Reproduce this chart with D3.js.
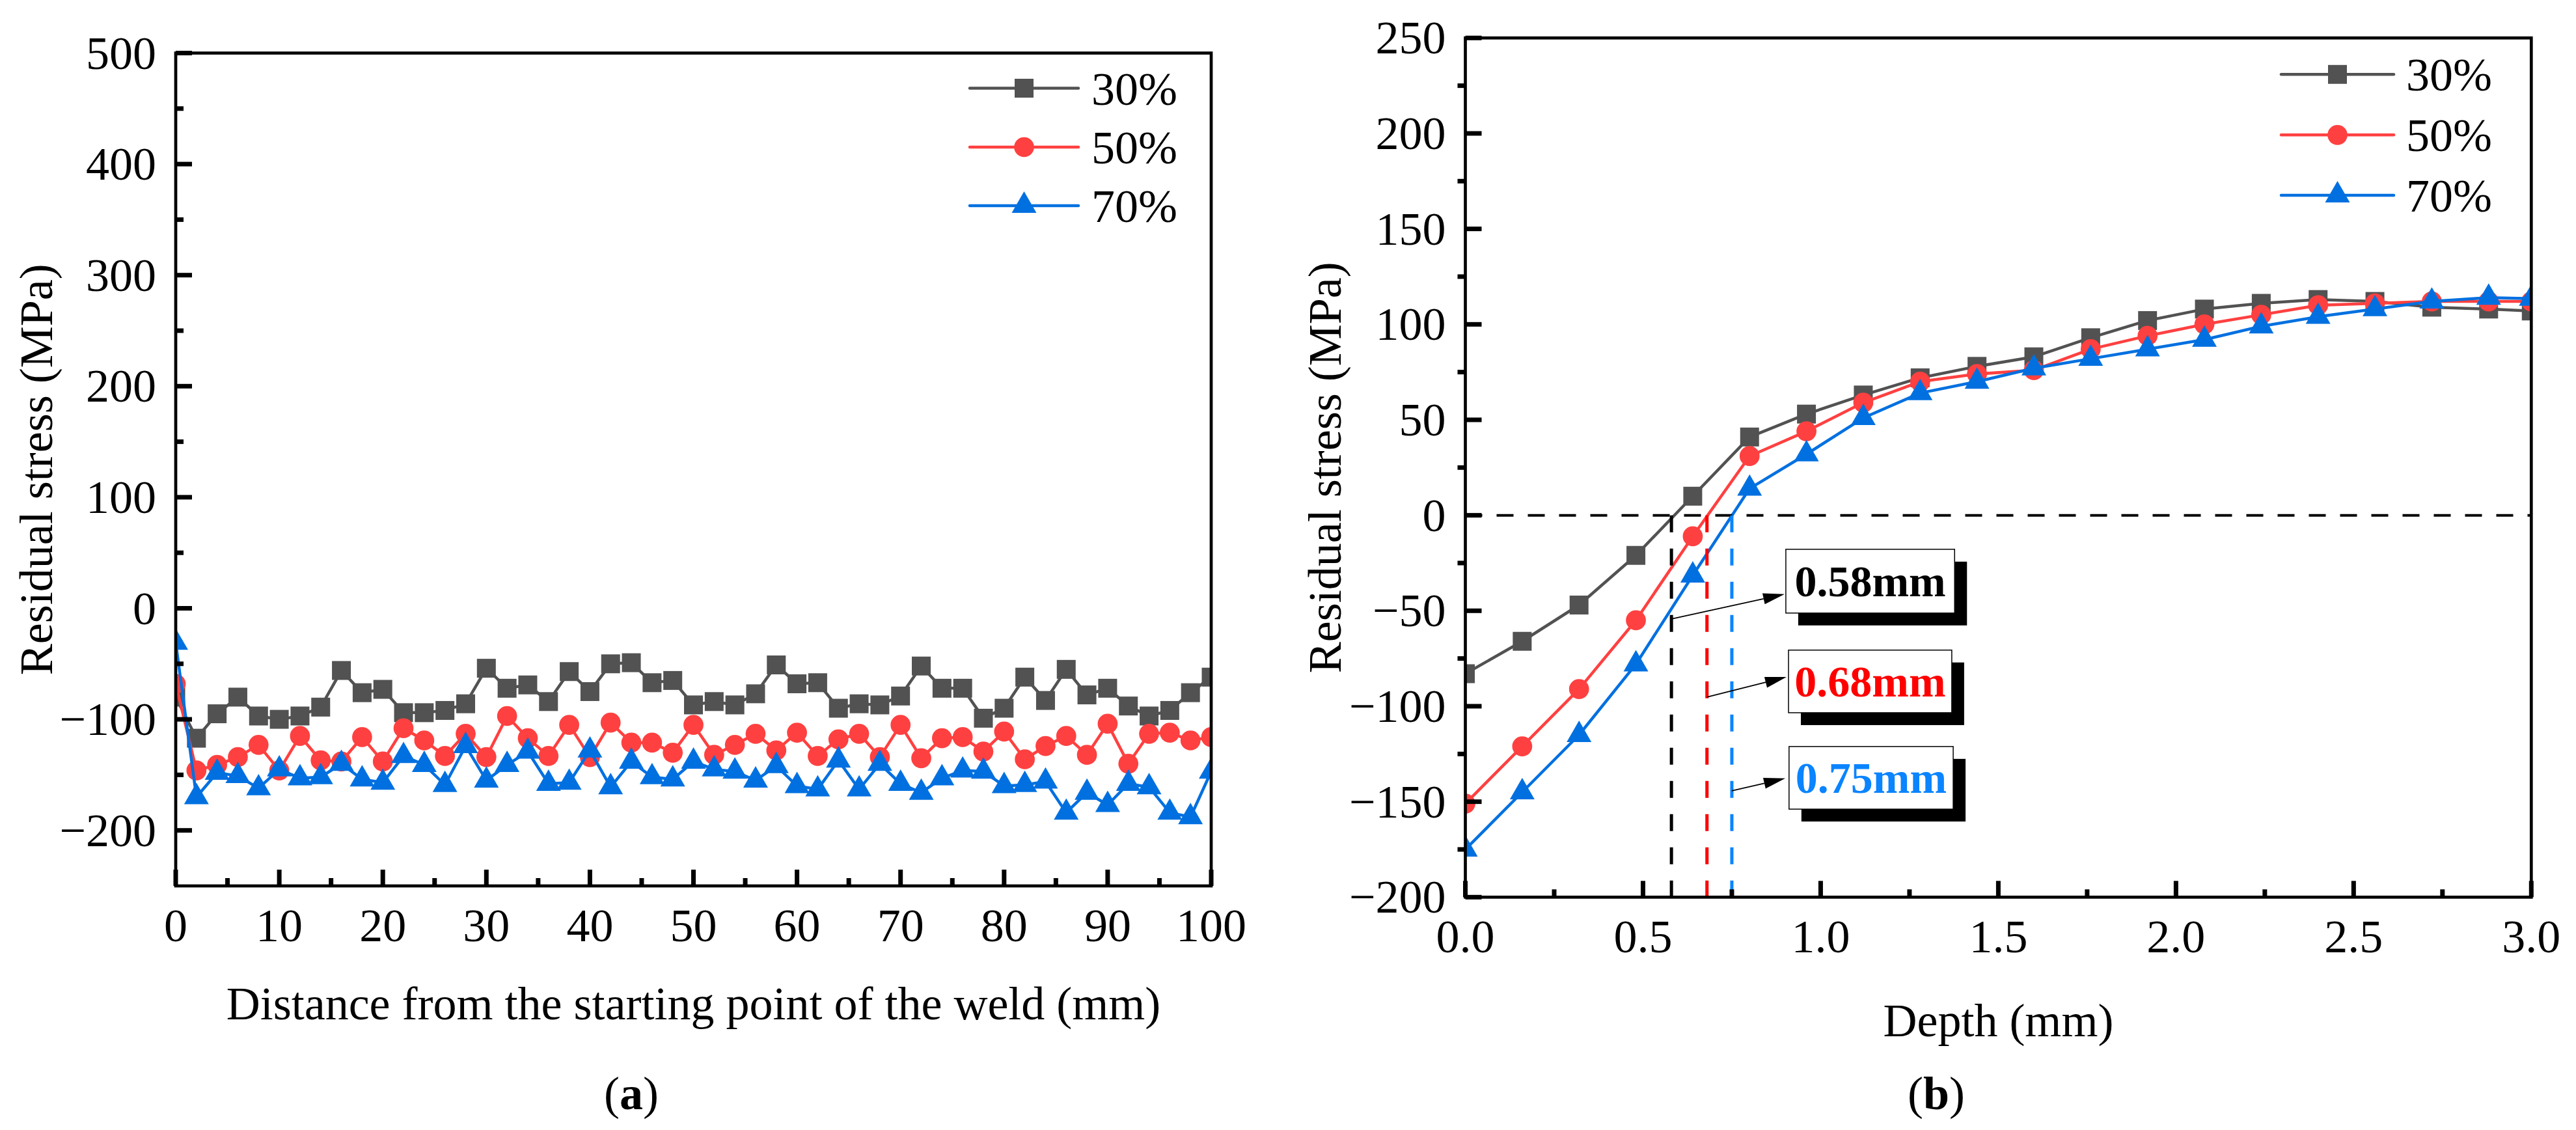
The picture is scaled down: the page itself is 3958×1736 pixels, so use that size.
<!DOCTYPE html>
<html><head><meta charset="utf-8">
<script src="https://cdn.jsdelivr.net/npm/d3@7/dist/d3.min.js"></script>
<style>
body{margin:0;background:#fff}
svg{display:block}
svg text{font-family:"Liberation Serif","Times New Roman",serif;fill:#000}
</style>
</head><body>
<svg id="c" width="3958" height="1736" font-family="Liberation Serif, Times New Roman, serif"></svg>
<script>
// ---------- DATA ----------
const seriesNames = ["30%", "50%", "70%"];

// (a) distance from the starting point of the weld (mm)
const distanceMM = [0,2,4,6,8,10,12,14,16,18,20,22,24,26,28,30,32,34,36,38,40,42,44,46,48,50,
  52,54,56,58,60,62,64,66,68,70,72,74,76,78,80,82,84,86,88,90,92,94,96,98,100];
const stressA30 = [-80,-117,-95,-80,-97,-100,-97,-89,-56,-76,-73,-94,-94,-92,-86,-54,-72,-69,-84,-57,-75,-50,-49,-67,-65,-87,
  -84,-87,-77,-51,-68,-67,-90,-86,-87,-79,-52,-72,-72,-99,-90,-62,-83,-55,-78,-72,-88,-97,-92,-76,-62];
const stressA50 = [-68,-146,-141,-134,-123,-146,-115,-137,-138,-116,-138,-108,-119,-133,-113,-134,-97,-117,-133,-105,-134,-103,-121,-121,-130,-105,
  -132,-123,-113,-128,-112,-133,-118,-113,-134,-105,-135,-117,-116,-129,-111,-136,-124,-115,-132,-104,-140,-113,-112,-119,-116];
const stressA70 = [-31,-170,-148,-151,-162,-145,-153,-152,-140,-154,-157,-133,-141,-159,-124,-155,-141,-129,-158,-157,-128,-161,-138,-152,-154,-138,
  -145,-147,-155,-142,-160,-163,-137,-163,-140,-158,-166,-153,-146,-147,-160,-159,-156,-184,-166,-177,-158,-161,-184,-188,-147];

// (b) depth (mm)
const depthMM = [0,0.16,0.32,0.48,0.64,0.80,0.96,1.12,1.28,1.44,1.60,1.76,1.92,2.08,2.24,2.40,2.56,2.72,2.88,3.00];
const stressB30 = [-83,-66,-47,-21,10,41,53,63,72,78,83,93,102,108,111,113,112,109,108,107];
const stressB50 = [-151,-121,-91,-55,-11,31,44,59,70,74,76,87,94,100,105,110,111,112,112,112];
const stressB70 = [-175,-145,-115,-78,-31.5,14,32,51,64,70,77,82,87,92,99,104,108,112,114,113.5];

// tick values / labels
const aXTicks = [0,10,20,30,40,50,60,70,80,90,100];
const aXMinor = [5,15,25,35,45,55,65,75,85,95];
const aYTicks = [-200,-100,0,100,200,300,400,500];
const aYMinor = [-150,-50,50,150,250,350,450];
const bXTicks = [0,0.5,1.0,1.5,2.0,2.5,3.0];
const bXMinor = [0.25,0.75,1.25,1.75,2.25,2.75];
const bYTicks = [-200,-150,-100,-50,0,50,100,150,200,250];
const bYMinor = [-175,-125,-75,-25,25,75,125,175,225];

// annotation (b): zero-crossing depths
const crossDepth = [0.58, 0.68, 0.75];
const crossLabels = ["0.58mm", "0.68mm", "0.75mm"];
const boxLeft = [0.902, 0.9095, 0.911];
const boxRight = [1.377, 1.369, 1.373];
const boxTop = [-17.8, -70.6, -121.1];
const boxBottom = [-51.2, -103.4, -153.9];
const arrowFromY = [-54.3, -95.2, -144.3];
const arrowToX = [0.8985, 0.904, 0.9004];
const arrowToY = [-41.3, -84.7, -137.8];

// ---------- STYLE ----------
const FONT = "Liberation Serif, Times New Roman, serif";
const colors = ["#525252", "#ff4040", "#0070e0"];
const crossColors = ["#000000", "#ff0000", "#0a84ff"];
const symbols = [
  d3.symbol().type(d3.symbolSquare).size(841)(),
  d3.symbol().type(d3.symbolCircle).size(740)(),
  d3.symbol().type(d3.symbolTriangle).size(625)()
];
const FS = 72;

const svg = d3.select("#c");
svg.append("rect").attr("width",3958).attr("height",1736).attr("fill","#fff");
const defs = svg.append("defs");

function txt(sel) {
  return sel.append("text").attr("font-family", FONT);
}

function drawPanel(p) {
  const g = svg.append("g");
  const x = d3.scaleLinear().domain(p.xDomain).range([p.left, p.right]);
  const y = d3.scaleLinear().domain(p.yDomain).range([p.bottom, p.top]);
  defs.append("clipPath").attr("id", "clip" + p.id).append("rect")
    .attr("x", p.left).attr("y", p.top).attr("width", p.right - p.left).attr("height", p.bottom - p.top);

  // series
  p.series.forEach((vals, k) => {
    const data = p.xs.map((xv, i) => [xv, vals[i]]);
    const sg = g.append("g").attr("clip-path", `url(#clip${p.id})`);
    sg.append("path")
      .attr("d", d3.line().x(d => x(d[0])).y(d => y(d[1]))(data))
      .attr("fill", "none").attr("stroke", colors[k]).attr("stroke-width", 4.5)
      .attr("stroke-linejoin", "round");
    sg.selectAll("path.m").data(data).join("path").attr("class", "m")
      .attr("transform", d => `translate(${x(d[0])},${y(d[1])})`)
      .attr("d", symbols[k]).attr("fill", colors[k]);
  });

  if (p.annot) p.annot(g, x, y);

  // frame
  g.append("rect").attr("x", p.left).attr("y", p.top)
    .attr("width", p.right - p.left).attr("height", p.bottom - p.top)
    .attr("fill", "none").attr("stroke", "#000").attr("stroke-width", 4.7);

  // ticks
  const tk = g.append("g").attr("stroke", "#000").attr("stroke-width", 7);
  p.xTicks.forEach(v => tk.append("line").attr("x1", x(v)).attr("x2", x(v))
    .attr("y1", p.bottom).attr("y2", p.bottom - 25));
  p.xMinor.forEach(v => tk.append("line").attr("x1", x(v)).attr("x2", x(v))
    .attr("y1", p.bottom).attr("y2", p.bottom - 12));
  p.yTicks.forEach(v => tk.append("line").attr("y1", y(v)).attr("y2", y(v))
    .attr("x1", p.left).attr("x2", p.left + 25));
  p.yMinor.forEach(v => tk.append("line").attr("y1", y(v)).attr("y2", y(v))
    .attr("x1", p.left).attr("x2", p.left + p.yMinorDir * 12));

  // tick labels
  p.xTicks.forEach(v => txt(g).attr("x", x(v)).attr("y", p.bottom + 85)
    .attr("text-anchor", "middle").attr("font-size", FS).text(p.xFmt(v)));
  p.yTicks.forEach(v => txt(g).attr("x", p.left - 30).attr("y", y(v) + 24)
    .attr("text-anchor", "end").attr("font-size", FS).text(String(v).replace("-", "\u2212")));

  // axis titles
  txt(g).attr("x", (p.left + p.right) / 2).attr("y", p.xTitleY)
    .attr("text-anchor", "middle").attr("font-size", FS).text(p.xTitle);
  txt(g).attr("transform", `translate(${p.yTitleX},${(p.top + p.bottom) / 2}) rotate(-90)`)
    .attr("text-anchor", "middle").attr("font-size", FS).text("Residual stress (MPa)");

  // legend
  seriesNames.forEach((n, k) => {
    const ly = p.legRows[k];
    g.append("line").attr("x1", p.legX0).attr("x2", p.legX1).attr("y1", ly).attr("y2", ly)
      .attr("stroke", colors[k]).attr("stroke-width", 4.5).attr("stroke-linecap", "round");
    g.append("path").attr("transform", `translate(${(p.legX0 + p.legX1) / 2},${ly})`)
      .attr("d", symbols[k]).attr("fill", colors[k]);
    txt(g).attr("x", p.legTX).attr("y", ly + 25).attr("font-size", FS).text(n);
  });

  // sub label
  const sl = txt(g).attr("x", p.subX).attr("y", 1704).attr("text-anchor", "middle").attr("font-size", FS);
  sl.append("tspan").text("(");
  sl.append("tspan").attr("font-weight", "bold").text(p.sub);
  sl.append("tspan").text(")");
}

drawPanel({
  id: "A", left: 270, right: 1861, top: 81.5, bottom: 1361,
  xDomain: [0, 100], yDomain: [-250, 500],
  xs: distanceMM, series: [stressA30, stressA50, stressA70],
  xTicks: aXTicks, xMinor: aXMinor, yTicks: aYTicks, yMinor: aYMinor, yMinorDir: 1,
  xFmt: d3.format("d"),
  xTitle: "Distance from the starting point of the weld (mm)", xTitleY: 1566, yTitleX: 80,
  legX0: 1490, legX1: 1657, legTX: 1677, legRows: [135.5, 226, 316],
  sub: "a", subX: 970
});

drawPanel({
  id: "B", left: 2251.5, right: 3889.3, top: 58.3, bottom: 1378.3,
  xDomain: [0, 3], yDomain: [-200, 250],
  xs: depthMM, series: [stressB30, stressB50, stressB70],
  xTicks: bXTicks, xMinor: bXMinor, yTicks: bYTicks, yMinor: bYMinor, yMinorDir: -1,
  xFmt: d3.format(".1f"),
  xTitle: "Depth (mm)", xTitleY: 1592, yTitleX: 2060,
  legX0: 3505, legX1: 3678, legTX: 3697, legRows: [114.3, 207.3, 300],
  sub: "b", subX: 2975,
  annot: (g, x, y) => {
    g.append("line").attr("x1", x(0)).attr("x2", x(3)).attr("y1", y(0)).attr("y2", y(0))
      .attr("stroke", "#000").attr("stroke-width", 4).attr("stroke-dasharray", "26,22");
    crossDepth.forEach((d, k) => {
      g.append("line").attr("x1", x(d)).attr("x2", x(d)).attr("y1", y(0)).attr("y2", y(-200))
        .attr("stroke", crossColors[k]).attr("stroke-width", 5).attr("stroke-dasharray", "26,25");
    });
    crossDepth.forEach((d, k) => {
      const x0 = x(d), y0 = y(arrowFromY[k]), x1 = x(arrowToX[k]), y1 = y(arrowToY[k]);
      const ang = Math.atan2(y1 - y0, x1 - x0), L = 33, W = 8.5;
      const bx = x1 - L * Math.cos(ang), by = y1 - L * Math.sin(ang);
      g.append("line").attr("x1", x0).attr("y1", y0).attr("x2", bx).attr("y2", by)
        .attr("stroke", "#000").attr("stroke-width", 1.8);
      g.append("path").attr("d", `M${x1},${y1}L${bx - W * Math.sin(ang)},${by + W * Math.cos(ang)}L${bx + W * Math.sin(ang)},${by - W * Math.cos(ang)}Z`)
        .attr("fill", "#000");
      const rx = x(boxLeft[k]), ry = y(boxTop[k]), rw = x(boxRight[k]) - rx, rh = y(boxBottom[k]) - ry;
      g.append("rect").attr("x", rx + 19).attr("y", ry + 19).attr("width", rw).attr("height", rh).attr("fill", "#000");
      g.append("rect").attr("x", rx).attr("y", ry).attr("width", rw).attr("height", rh)
        .attr("fill", "#fff").attr("stroke", "#000").attr("stroke-width", 1.5);
      txt(g).attr("x", rx + rw / 2).attr("y", ry + rh / 2 + 23)
        .attr("text-anchor", "middle").attr("font-size", 68).attr("font-weight", "bold")
        .style("fill", crossColors[k]).text(crossLabels[k]);
    });
  }
});
</script>
</body></html>
